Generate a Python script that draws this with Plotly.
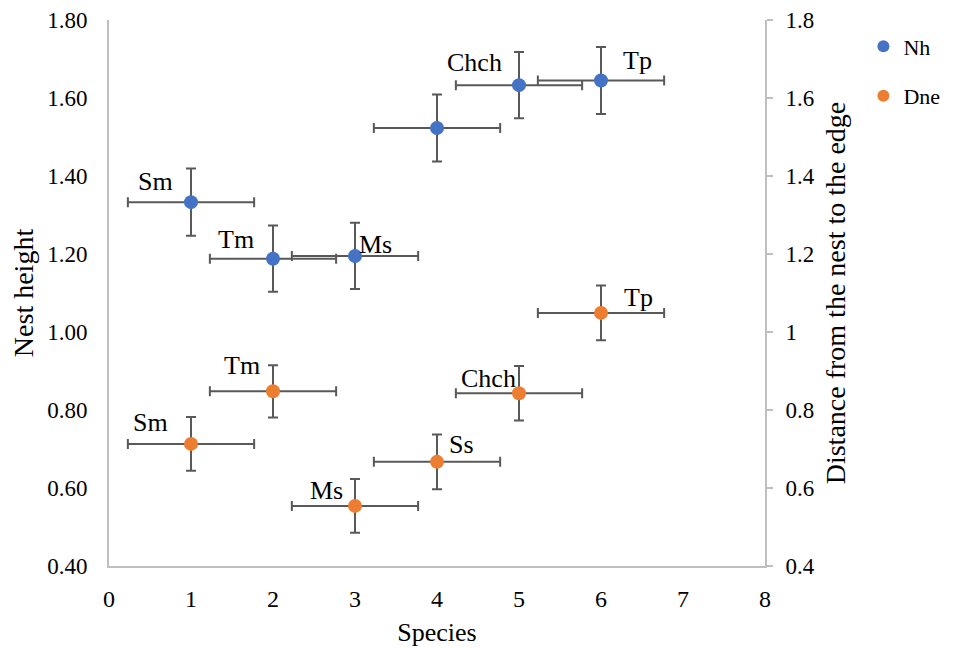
import plotly.graph_objects as go

# ---- data ----
species_x = [1, 2, 3, 4, 5, 6]
nh_values = [1.333, 1.188, 1.195, 1.523, 1.633, 1.645]
nh_err_y = [0.086, 0.085, 0.085, 0.086, 0.085, 0.086]
nh_labels = ["Sm", "Tm", "Ms", "", "Chch", "Tp"]

dne_values = [0.713, 0.848, 0.554, 0.667, 0.843, 1.049]
dne_err_y = [0.069, 0.067, 0.069, 0.070, 0.070, 0.070]
dne_labels = ["Sm", "Tm", "Ms", "Ss", "Chch", "Tp"]

x_err = [0.77, 0.77, 0.77, 0.77, 0.77, 0.77]

left_ticks = [0.4, 0.6, 0.8, 1.0, 1.2, 1.4, 1.6, 1.8]

# ---- label offsets (pixels; style only) ----
nh_offsets = [(-36, 21), (-37, 19), (20, 11), (0, 0), (-45, 23), (36, 20)]
dne_offsets = [(-41, 21), (-31, 26), (-29, 15), (24, 17), (-31, 15), (37, 15)]

FONT = "Liberation Serif"
ERR_COLOR = "#595959"
AX_COLOR = "#bfbfbf"

fig = go.Figure()

fig.add_trace(go.Scatter(
    x=species_x, y=nh_values, mode="markers", name="Nh",
    marker=dict(color="#4472C4", size=14),
    error_y=dict(type="data", array=nh_err_y, color=ERR_COLOR, thickness=2, width=5),
    error_x=dict(type="data", array=x_err, color=ERR_COLOR, thickness=2, width=5),
    legendgroup="a", yaxis="y",
))
fig.add_trace(go.Scatter(
    x=species_x, y=dne_values, mode="markers", name="Dne",
    marker=dict(color="#ED7D31", size=14),
    error_y=dict(type="data", array=dne_err_y, color=ERR_COLOR, thickness=2, width=5),
    error_x=dict(type="data", array=x_err, color=ERR_COLOR, thickness=2, width=5),
    legendgroup="b", yaxis="y2",
))

annotations = []
for xv, yv, lab, (dx, dy) in zip(species_x, nh_values, nh_labels, nh_offsets):
    if lab:
        annotations.append(dict(x=xv, y=yv, xref="x", yref="y", text=lab, showarrow=False,
                                xshift=dx, yshift=dy, font=dict(family=FONT, size=26, color="black")))
for xv, yv, lab, (dx, dy) in zip(species_x, dne_values, dne_labels, dne_offsets):
    if lab:
        annotations.append(dict(x=xv, y=yv, xref="x", yref="y2", text=lab, showarrow=False,
                                xshift=dx, yshift=dy, font=dict(family=FONT, size=26, color="black")))

# page body has an 8px default margin, so the figure is sized to fit the window
fig.update_layout(
    width=951, height=640,
    margin=dict(l=101, r=194, t=12, b=82),
    paper_bgcolor="white", plot_bgcolor="white",
    font=dict(family=FONT, size=23, color="black"),
    annotations=annotations,
    showlegend=True,
    legend=dict(x=1.15, y=0.99, xanchor="left", yanchor="top",
                font=dict(family=FONT, size=22, color="black"),
                tracegroupgap=18, itemsizing="constant"),
    xaxis=dict(
        range=[0, 8], dtick=1, tick0=0, showgrid=False, zeroline=False,
        showline=True, linecolor=AX_COLOR, linewidth=2,
        ticks="outside", ticklen=0, ticklabelstandoff=10,
        tickfont=dict(family=FONT, size=24),
        title=dict(text="Species", font=dict(family=FONT, size=26), standoff=12),
        automargin=False,
    ),
    yaxis=dict(
        range=[0.3999, 1.8001], tickvals=left_ticks, tickformat=".2f", showgrid=False, zeroline=False,
        showline=True, linecolor=AX_COLOR, linewidth=2,
        ticks="outside", ticklen=0, ticklabelstandoff=15,
        title=dict(text="Nest height", font=dict(family=FONT, size=28), standoff=10),
        automargin=False,
    ),
    yaxis2=dict(
        range=[0.3999, 1.8001], tickvals=left_ticks, overlaying="y", side="right",
        showgrid=False, zeroline=False,
        showline=True, linecolor=AX_COLOR, linewidth=2,
        ticks="outside", ticklen=6, tickcolor=AX_COLOR, tickwidth=2, ticklabelstandoff=8,
        title=dict(text="Distance from the nest to the edge", font=dict(family=FONT, size=28), standoff=12),
        automargin=False,
    ),
)

fig.write_html("out.html")
